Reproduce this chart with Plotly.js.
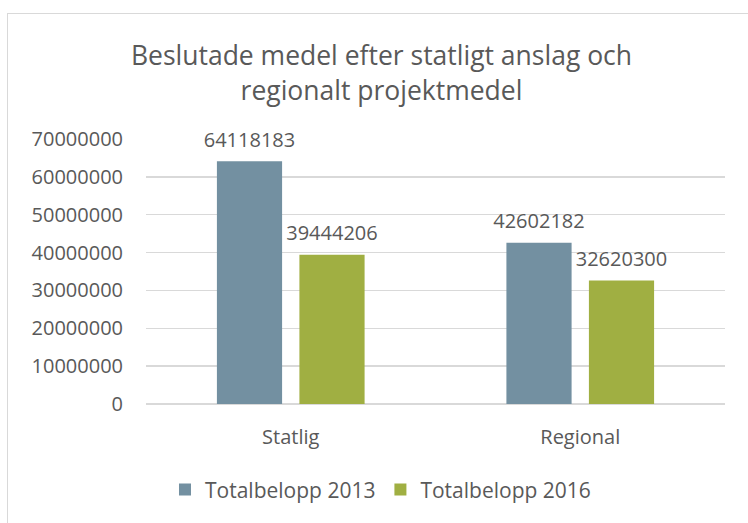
<!DOCTYPE html>
<html>
<head>
<meta charset="utf-8">
<script src="https://cdn.plot.ly/plotly-3.0.1.min.js"></script>
<style>
html,body{margin:0;padding:0;background:#fff;}
#wrap{position:relative;width:748px;height:523px;overflow:hidden;}
#chart{width:748px;height:523px;}
#frame{position:absolute;left:7px;top:13px;width:900px;height:700px;border:1px solid #D9D9D9;pointer-events:none;box-sizing:border-box;}
</style>
</head>
<body>
<div id="wrap"><div id="chart"></div><div id="frame"></div></div>
<script>
var categories = ["Statlig", "Regional"];
var seriesNames = ["Totalbelopp 2013", "Totalbelopp 2016"];
var values2013 = [64118183, 42602182];
var values2016 = [39444206, 32620300];
var tickValues = [0, 10000000, 20000000, 30000000, 40000000, 50000000, 60000000, 70000000];
var tickLabels = ["0", "10000000", "20000000", "30000000", "40000000", "50000000", "60000000", "70000000"];

var FONT = "Open Sans, Lato, sans-serif";
var TXT = "#595959";
var COLORS = ["#7390A1", "#A0AF42"];
var series = [values2013, values2016];

var traces = [];
series.forEach(function(vals, i){
  traces.push({type:"bar", name:seriesNames[i], x:categories, y:vals,
    offsetgroup:String(i), alignmentgroup:"g",
    marker:{color:COLORS[i]}, hoverinfo:"none"});
});
series.forEach(function(vals, i){
  traces.push({type:"scatter", mode:"markers+text", x:categories, y:vals,
    offsetgroup:String(i), alignmentgroup:"g",
    text:vals.map(String), textposition:"top center", cliponaxis:false,
    textfont:{family:FONT, size:20, color:TXT},
    marker:{size:14, opacity:0, color:COLORS[i]}, showlegend:false, hoverinfo:"none"});
});

var layout = {
  width:748, height:523,
  margin:{l:146, r:23, t:139, b:119, pad:0},
  paper_bgcolor:"#fff", plot_bgcolor:"#fff",
  font:{family:FONT, color:TXT, size:20},
  title:{text:"Beslutade medel efter statligt anslag och<br>regionalt projektmedel",
         font:{family:FONT, size:26.5, color:TXT}, x:0.51, xanchor:"center", y:0.875, yanchor:"middle"},
  barmode:"group", bargap:0.43, bargroupgap:0.21,
  scattermode:"group", scattergap:0.43,
  xaxis:{type:"category", showgrid:false, zeroline:false, showline:false, ticks:"",
         tickfont:{family:FONT, size:20, color:TXT}, ticklabelstandoff:19},
  yaxis:{range:[0,70000000], tickvals:tickValues, ticktext:tickLabels, showgrid:true,
         gridcolor:"#D9D9D9", gridwidth:1.5, zeroline:true, zerolinecolor:"#D9D9D9", zerolinewidth:1.5,
         showline:false, ticks:"", tickfont:{family:FONT, size:20, color:TXT}, ticklabelstandoff:22},
  showlegend:true,
  legend:{orientation:"h", x:0.405, xanchor:"center", y:-0.324, yanchor:"middle",
          font:{family:FONT, size:21, color:TXT}, traceorder:"normal"}
};

Plotly.newPlot("chart", traces, layout, {staticPlot:true, displayModeBar:false});
</script>
</body>
</html>
